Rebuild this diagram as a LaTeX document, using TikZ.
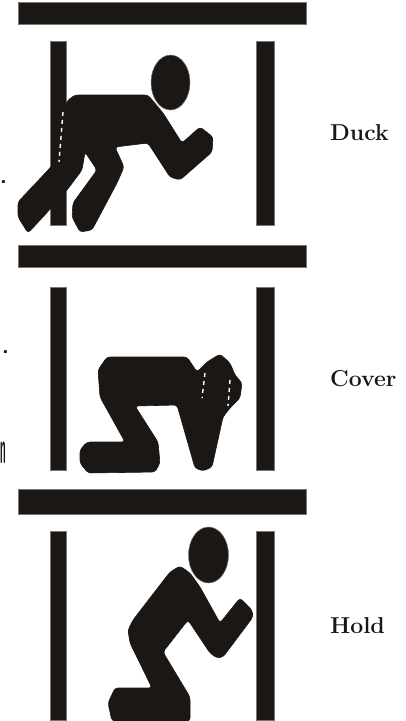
\documentclass[tikz,border=0pt]{standalone}
\usepackage{tikz}
\usetikzlibrary{positioning,shapes.geometric}
\definecolor{InkBlack}{HTML}{1A1714}
\definecolor{EdgeGrey}{HTML}{7A7672}
\begin{document}
\begin{tikzpicture}[
  x=1pt, y=-1pt,
  node distance = 0pt and 55pt,
  bar/.style    = {fill=InkBlack, draw=EdgeGrey, line width=0.8pt, inner sep=0pt, minimum width=288pt, minimum height=22pt},
  post/.style   = {fill=InkBlack, draw=EdgeGrey, line width=0.8pt, inner sep=0pt, minimum width=16pt},
  body/.style   = {fill=InkBlack, draw=InkBlack, line width=0.6pt, rounded corners=3pt},
  head/.style   = {ellipse, fill=InkBlack, draw=EdgeGrey, line width=0.5pt, inner sep=0pt},
  gap/.style    = {draw=white, line width=1.4pt, dash pattern=on 4pt off 4pt},
  tag/.style    = {font=\fontsize{23}{25}\selectfont\bfseries, text=InkBlack, inner sep=0pt},
  scrap/.style  = {font=\fontsize{22}{24}\selectfont\sffamily\bfseries, text=InkBlack, inner sep=0pt}
]
  \useasboundingbox (0,0) rectangle (406,721);

  % Bars
  \node[bar] (bar1) at (162.5,13) {};
  \node[bar] (bar2) at (162.5,256.5) {};
  \node[bar, minimum height=25pt] (bar3) at (162.5,502) {};

  % Row 1: posts
  \node[post, minimum height=184pt] (p1l) at (58,133) {};
  \node[post, minimum height=184pt, minimum width=18pt] (p1r) at (265.5,133) {};
  % Row 2: posts
  \node[post, minimum height=183pt] (p2l) at (58,378.5) {};
  \node[post, minimum height=183pt, minimum width=18pt] (p2r) at (265.5,378.5) {};
  % Row 3: posts
  \node[post, minimum height=189pt] (p3l) at (58,626) {};
  \node[post, minimum height=189pt, minimum width=18pt] (p3r) at (265.5,626) {};

  % Row 1: figure
  \fill[body] (75,95) -- (148,95) -- (163,113) -- (182,143) -- (200,127) -- (213,137)
    -- (212,152) -- (180,180) -- (170,177) -- (148,143) -- (115,147) -- (124,167)
    -- (117,183) -- (92,230) -- (80,232) -- (72,217) -- (73,203) -- (97,170)
    -- (85,152) -- (82,170) -- (67,190) -- (43,217) -- (28,233) -- (18,217)
    -- (18,202) -- (50,168) -- (58,157) -- (63,110) -- (68,100) -- cycle;
  \draw[gap] (63,112) -- (59,162);
  \node[head, minimum width=39pt, minimum height=55pt] (h1) at (170.5,82.5) {};

  % Row 2: figure
  \fill[body] (107,357) -- (187,357) -- (197,372) -- (207,362) -- (220,354) -- (230,363)
    -- (235,375) -- (242,383) -- (240,398) -- (230,408) -- (223,417) -- (212,467)
    -- (203,471) -- (195,468) -- (177,405) -- (135,406) -- (158,442) -- (160,463)
    -- (155,472) -- (88,473) -- (80,463) -- (80,450) -- (87,442) -- (125,442)
    -- (100,397) -- (98,370) -- cycle;
  \draw[gap] (205,373) -- (202,398);
  \draw[gap] (230,380) -- (228,406);

  % Row 3: figure
  \fill[body] (180,566) -- (190,573) -- (200,587) -- (220,623) -- (240,598) -- (252,610)
    -- (253,617) -- (223,657) -- (217,658) -- (210,653) -- (188,620) -- (163,652)
    -- (190,697) -- (190,721) -- (112,721) -- (108,703) -- (115,688) -- (152,688)
    -- (130,643) -- (128,630) -- (133,620) -- (170,572) -- cycle;
  \node[head, minimum width=40pt, minimum height=56pt] (h3) at (208.5,555) {};

  % Labels
  \node[tag, right=of p1r] (duck) {Duck};
  \node[tag, right=of p2r] (cover) {Cover};
  \node[tag, right=of p3r] (hold) {Hold};

  % Marks at the left edge
  \node[scrap, anchor=base west] (m1) at (0,183) {.};
  \node[scrap, anchor=base west] (m2) at (2,353) {.};
  \node[scrap, anchor=base west, font=\fontsize{46}{48}\selectfont\sffamily\bfseries, xscale=0.22] (m3) at (0,463) {n};
\end{tikzpicture}
\end{document}
